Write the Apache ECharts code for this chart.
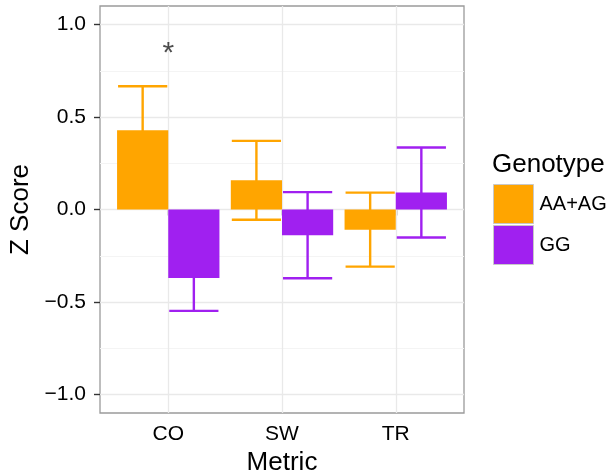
<!DOCTYPE html>
<html>
<head>
<meta charset="utf-8">
<script src="https://cdn.jsdelivr.net/npm/echarts@6/dist/echarts.min.js"></script>
<style>
html,body{margin:0;padding:0;background:#fff;}
#main{width:616px;height:476px;}
</style>
</head>
<body>
<div id="main"></div>
<script>
// ---------- data ----------
var metrics = ['CO', 'SW', 'TR'];
var genotypes = ['AA+AG', 'GG'];
var genoColors = ['#FFA500', '#A020F0'];
var meanAA = [0.429, 0.158, -0.109];
var meanGG = [-0.370, -0.139, 0.092];
var seAA = [0.237, 0.213, 0.200];
var seGG = [0.178, 0.233, 0.243];
var yTicks = [-1.0, -0.5, 0.0, 0.5, 1.0];
var yMinor = [-0.75, -0.25, 0.25, 0.75];
var starMetric = ['CO'];
var starValue = [0.85];

var FONT = 'Liberation Sans';
var dodge = 0.225;   // half of a dodged bar width (0.9 / 2 / 2)

function renderBar(gi) {
	return function (params, api) {
		var x = api.value(0) + (gi === 0 ? -dodge : dodge);
		var m = api.value(1), e = api.value(2);
		var color = genoColors[gi];
		var a = api.coord([x - dodge, m]);
		var b = api.coord([x + dodge, 0]);
		var top = api.coord([x, m + e]);
		var bot = api.coord([x, m - e]);
		var capL = a[0] + 1;
		var capR = b[0] - 1;
		var ls = {stroke: color, lineWidth: 2.4};
		return {
			type: 'group',
			children: [
				{type: 'line', shape: {x1: top[0], y1: top[1], x2: bot[0], y2: bot[1]}, style: ls},
				{type: 'line', shape: {x1: capL, y1: top[1], x2: capR, y2: top[1]}, style: ls},
				{type: 'line', shape: {x1: capL, y1: bot[1], x2: capR, y2: bot[1]}, style: ls},
				{type: 'rect', shape: {x: a[0], y: Math.min(a[1], b[1]), width: b[0] - a[0], height: Math.abs(b[1] - a[1])},
					style: {fill: color}}
			]
		};
	};
}

function barData(means, ses) {
	return means.map(function (v, i) { return [i + 1, v, ses[i]]; });
}

// gridlines (ggplot theme_bw style)
var gridLines = [];
yMinor.forEach(function (v) { gridLines.push({yAxis: v, lineStyle: {color: '#f4f4f4', width: 1, type: 'solid'}}); });
yTicks.forEach(function (v) { gridLines.push({yAxis: v, lineStyle: {color: '#e9e9e9', width: 1.3, type: 'solid'}}); });
metrics.forEach(function (c, i) { gridLines.push({xAxis: i + 1, lineStyle: {color: '#e9e9e9', width: 1.3, type: 'solid'}}); });

var option = {
	animation: false,
	title: {
		text: 'Genotype',
		left: 492,
		top: 152,
		padding: 0,
		textStyle: {fontFamily: FONT, fontSize: 26, fontWeight: 'normal', color: '#000'}
	},
	legend: {
		orient: 'vertical',
		left: 493,
		top: 184,
		padding: 0,
		itemWidth: 40,
		itemHeight: 39,
		itemGap: 1,
		icon: 'rect',
		textStyle: {fontFamily: FONT, fontSize: 20, color: '#000', padding: [0, 0, 0, 1]},
		data: genotypes.map(function (g, i) {
			return {name: g, itemStyle: {color: genoColors[i], borderColor: '#c8c8c8', borderWidth: 1}};
		})
	},
	grid: {
		left: 100, top: 6, right: 152, bottom: 63,
		containLabel: false, outerBoundsMode: 'none',
		show: true, borderColor: '#9a9a9a', borderWidth: 1.3, backgroundColor: '#fff'
	},
	xAxis: {
		type: 'value',
		min: 0.4, max: 3.6,
		name: 'Metric',
		nameLocation: 'middle',
		nameGap: 37,
		nameTextStyle: {fontFamily: FONT, fontSize: 26, color: '#000'},
		axisLine: {show: false},
		axisTick: {show: true, customValues: [1, 2, 3], length: 6, lineStyle: {color: '#333', width: 1.4}},
		axisLabel: {customValues: [1, 2, 3], margin: 11, fontFamily: FONT, fontSize: 21, color: '#000',
			formatter: function (v) { return metrics[Math.round(v) - 1]; }},
		splitLine: {show: false}
	},
	yAxis: {
		type: 'value',
		min: -1.1, max: 1.1,
		name: 'Z Score',
		nameLocation: 'middle',
		nameGap: 64,
		nameRotate: 90,
		nameTextStyle: {fontFamily: FONT, fontSize: 26, color: '#000'},
		axisLine: {show: false},
		axisTick: {show: true, customValues: yTicks, length: 6, lineStyle: {color: '#333', width: 1.4}},
		axisLabel: {customValues: yTicks, margin: 14, fontFamily: FONT, fontSize: 21, color: '#000',
			formatter: function (v) { return (v < 0 ? '\u2212' : '') + Math.abs(v).toFixed(1); }},
		splitLine: {show: false}
	},
	series: [
		{
			name: 'annot',
			type: 'scatter',
			z: 1,
			silent: true,
			symbolSize: 1,
			itemStyle: {color: 'rgba(0,0,0,0)'},
			data: starMetric.map(function (m, i) { return [metrics.indexOf(m) + 1, starValue[i]]; }),
			label: {show: true, position: 'inside', offset: [0, 1], formatter: '*', fontFamily: FONT, fontSize: 30, color: '#222'},
			markLine: {silent: true, z: 1, symbol: 'none', label: {show: false}, animation: false,
				lineStyle: {type: 'solid'}, emphasis: {disabled: true}, data: gridLines}
		},
		{
			name: genotypes[0], type: 'custom', z: 3,
			itemStyle: {color: genoColors[0]},
			renderItem: renderBar(0),
			data: barData(meanAA, seAA)
		},
		{
			name: genotypes[1], type: 'custom', z: 3,
			itemStyle: {color: genoColors[1]},
			renderItem: renderBar(1),
			data: barData(meanGG, seGG)
		}
	]
};

echarts.init(document.getElementById('main')).setOption(option);
</script>
</body>
</html>
